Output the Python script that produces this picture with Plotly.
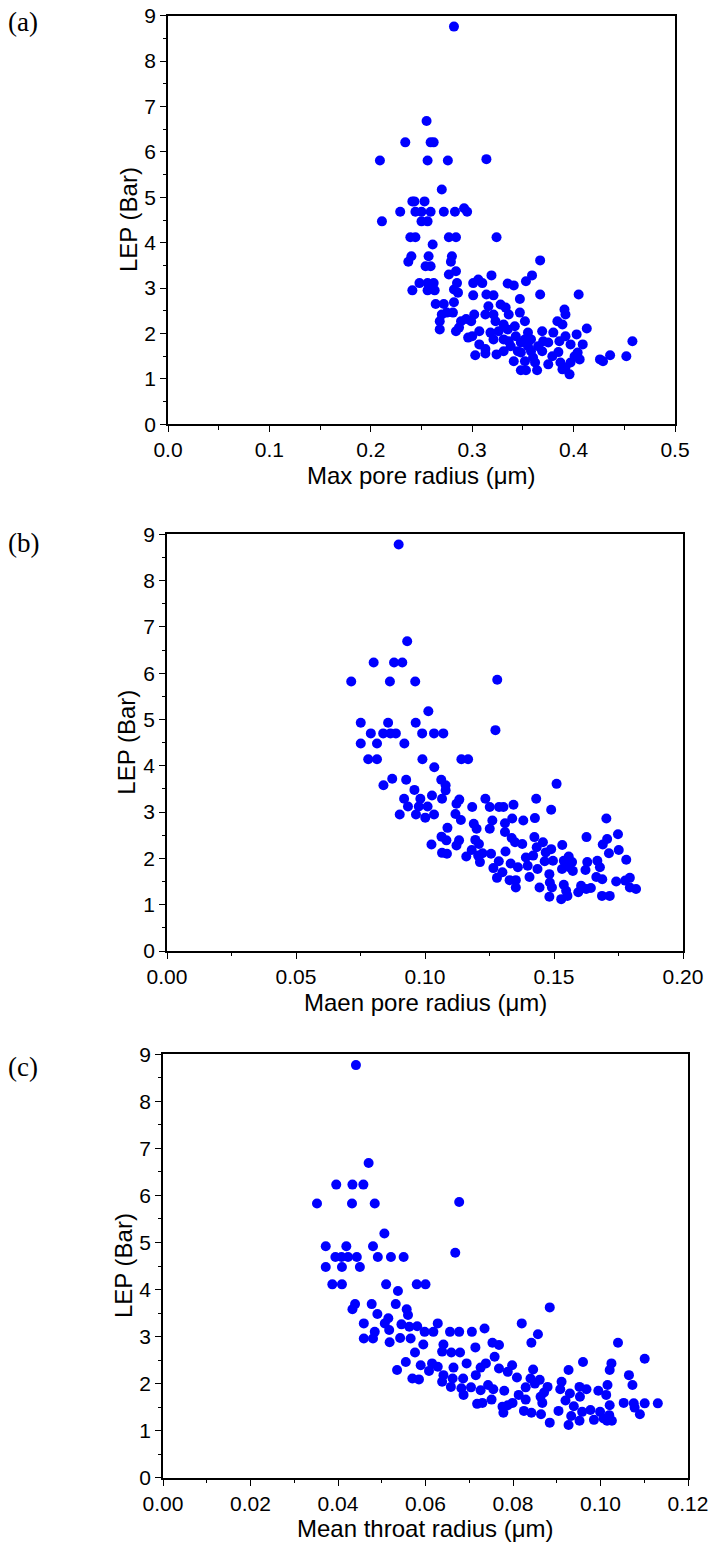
import plotly.graph_objects as go

# Panel (a): Max pore radius (um) vs LEP (Bar)
max_pore_radius = [0.282,0.255,0.234,0.259,0.262,0.209,0.256,0.276,0.314,0.270,0.241,0.243,0.253,0.229,0.244,0.250,0.259,0.272,0.283,0.292,0.295,0.211,0.250,0.256,0.239,0.244,0.277,0.284,0.324,0.261,0.240,0.237,0.257,0.280,0.279,0.367,0.254,0.259,0.277,0.284,0.319,0.359,0.353,0.248,0.256,0.262,0.285,0.301,0.306,0.310,0.335,0.341,0.241,0.256,0.263,0.282,0.286,0.301,0.314,0.321,0.367,0.405,0.347,0.282,0.264,0.272,0.328,0.333,0.281,0.391,0.392,0.270,0.268,0.302,0.313,0.321,0.336,0.347,0.352,0.289,0.294,0.299,0.384,0.389,0.268,0.284,0.287,0.413,0.307,0.318,0.326,0.335,0.369,0.380,0.392,0.403,0.296,0.300,0.321,0.331,0.343,0.352,0.358,0.375,0.386,0.397,0.409,0.458,0.307,0.313,0.338,0.348,0.355,0.365,0.303,0.313,0.324,0.331,0.345,0.358,0.369,0.385,0.404,0.436,0.452,0.426,0.429,0.406,0.341,0.352,0.362,0.375,0.387,0.392,0.397,0.348,0.353,0.364,0.396,0.389,0.323,0.331,0.342,0.336,0.360,0.379,0.348,0.316,0.401,0.275,0.355,0.370]
lep_a = [8.76,6.68,6.21,6.21,6.21,5.81,5.81,5.81,5.84,5.17,4.91,4.91,4.91,4.68,4.68,4.68,4.68,4.68,4.68,4.76,4.68,4.47,4.47,4.47,4.12,4.12,4.12,4.12,4.12,3.96,3.70,3.58,3.70,3.70,3.58,3.61,3.48,3.48,3.30,3.37,3.28,3.28,3.15,3.11,3.11,3.11,3.11,3.11,3.19,3.11,3.10,3.06,2.95,2.95,2.95,2.97,2.90,2.84,2.86,2.84,2.86,2.86,2.76,2.69,2.65,2.65,2.64,2.57,2.46,2.53,2.42,2.42,2.27,2.42,2.42,2.42,2.42,2.46,2.27,2.27,2.32,2.27,2.27,2.20,2.09,2.05,2.13,2.11,2.05,2.02,2.05,2.09,2.05,2.02,1.94,1.98,1.91,1.94,1.87,1.87,1.94,1.87,1.87,1.80,1.83,1.76,1.76,1.83,1.76,1.66,1.72,1.80,1.72,1.72,1.52,1.56,1.54,1.61,1.61,1.61,1.61,1.59,1.58,1.52,1.50,1.43,1.39,1.43,1.39,1.39,1.36,1.32,1.36,1.25,1.36,1.19,1.19,1.19,1.10,1.21,2.27,2.20,2.16,1.83,1.47,1.50,1.58,2.60,1.50,2.46,2.02,1.83]

# Panel (b): Maen pore radius (um) vs LEP (Bar)
mean_pore_radius = [0.0898,0.0931,0.0801,0.0880,0.0912,0.0714,0.0864,0.0962,0.1280,0.1013,0.0751,0.0857,0.0964,0.0790,0.0838,0.0866,0.0887,0.0989,0.1035,0.1071,0.1273,0.0751,0.0814,0.0920,0.0780,0.0814,0.0990,0.1141,0.1167,0.1036,0.0873,0.0839,0.0927,0.1063,0.1080,0.1510,0.0959,0.1080,0.1027,0.1066,0.0919,0.0982,0.1133,0.1234,0.1431,0.1122,0.1183,0.1251,0.1287,0.1304,0.1343,0.1489,0.0934,0.0976,0.1010,0.0902,0.0965,0.1001,0.1035,0.1118,0.1139,0.1703,0.1381,0.1426,0.1189,0.1261,0.1310,0.1338,0.1200,0.1251,0.1087,0.1310,0.1748,0.1626,0.1064,0.1336,0.1424,0.1706,0.1083,0.1132,0.1195,0.1349,0.1377,0.1457,0.1025,0.1122,0.1209,0.1532,0.1689,0.1433,0.1489,0.1751,0.1713,0.1181,0.1312,0.1468,0.1066,0.1085,0.1223,0.1256,0.1391,0.1419,0.1160,0.1206,0.1557,0.1780,0.1464,0.1496,0.1538,0.1570,0.1629,0.1668,0.1213,0.1286,0.1332,0.1398,0.1265,0.1360,0.1436,0.1531,0.1573,0.1622,0.1678,0.1300,0.1482,0.1279,0.1405,0.1664,0.1687,0.1794,0.1328,0.1352,0.1741,0.1484,0.1538,0.1776,0.1352,0.1444,0.1492,0.1605,0.1643,0.1818,0.1794,0.1547,0.1594,0.1625,0.1686,0.1716,0.1482,0.1528,0.1552,0.1559]
lep_b = [8.78,6.69,6.23,6.23,6.23,5.82,5.82,5.82,5.86,5.18,4.93,4.93,4.93,4.70,4.70,4.70,4.70,4.70,4.70,4.70,4.77,4.48,4.48,4.48,4.14,4.14,4.14,4.14,4.14,3.97,3.72,3.58,3.70,3.70,3.58,3.61,3.48,3.47,3.36,3.29,3.29,3.29,3.27,3.29,3.29,3.18,3.11,3.11,3.11,3.11,3.16,3.05,3.12,3.12,3.12,2.95,2.95,2.88,2.95,2.96,2.83,2.86,2.82,2.87,2.75,2.82,2.76,2.86,2.64,2.64,2.66,2.57,2.52,2.46,2.47,2.44,2.46,2.42,2.39,2.39,2.40,2.35,2.31,2.35,2.30,2.28,2.31,2.29,2.30,2.24,2.20,2.18,2.11,2.18,2.15,2.13,2.12,2.10,2.11,2.10,2.02,2.06,2.04,2.06,2.04,1.97,1.94,1.95,1.95,1.92,1.92,1.95,1.92,1.94,1.89,1.84,1.79,1.81,1.77,1.77,1.73,1.75,1.81,1.70,1.66,1.58,1.60,1.60,1.55,1.58,1.53,1.53,1.50,1.48,1.43,1.52,1.37,1.37,1.37,1.41,1.36,1.34,1.37,1.30,1.27,1.34,1.19,1.19,1.17,1.12,1.19,1.81]

# Panel (c): Mean throat radius (um) vs LEP (Bar)
mean_throat_radius = [0.0441,0.0470,0.0396,0.0433,0.0458,0.0352,0.0432,0.0484,0.0677,0.0506,0.0372,0.0419,0.0480,0.0394,0.0408,0.0423,0.0443,0.0491,0.0521,0.0550,0.0668,0.0372,0.0409,0.0450,0.0387,0.0409,0.0510,0.0580,0.0600,0.0537,0.0439,0.0433,0.0477,0.0532,0.0557,0.0884,0.0490,0.0560,0.0820,0.0857,0.0459,0.0507,0.0545,0.0515,0.0628,0.0563,0.0581,0.0735,0.0484,0.0517,0.0598,0.0618,0.0656,0.0677,0.0706,0.0459,0.0480,0.0542,0.0566,0.0518,0.0595,0.0641,0.0753,0.0768,0.0842,0.1040,0.0714,0.0638,0.0576,0.0659,0.0679,0.0758,0.1101,0.0960,0.0555,0.0694,0.0738,0.0798,0.1025,0.0589,0.0615,0.0628,0.0664,0.0726,0.0768,0.0535,0.0608,0.0846,0.0927,0.1021,0.0788,0.0641,0.0715,0.1065,0.0809,0.0840,0.0570,0.0585,0.0662,0.0686,0.0861,0.0911,0.0638,0.0743,0.1073,0.1016,0.0952,0.0829,0.0879,0.0658,0.0850,0.0682,0.0704,0.0968,0.0908,0.0726,0.0755,0.0780,0.0995,0.0871,0.0930,0.0687,0.0813,0.0863,0.1013,0.0953,0.0751,0.0829,0.0920,0.0867,0.0718,0.0730,0.0799,0.1053,0.1076,0.1101,0.1131,0.1021,0.0776,0.0788,0.0939,0.1078,0.0904,0.0825,0.0842,0.0958,0.0977,0.0999,0.0778,0.0864,0.1090,0.0933,0.1020,0.0985,0.1026,0.0952,0.0884,0.0927,0.1007,0.1015]
lep_c = [8.77,6.69,6.23,6.23,6.23,5.83,5.83,5.83,5.86,5.19,4.92,4.92,4.92,4.69,4.69,4.69,4.69,4.69,4.69,4.69,4.78,4.48,4.48,4.48,4.11,4.11,4.11,4.11,4.11,3.97,3.69,3.58,3.69,3.69,3.58,3.62,3.48,3.46,3.28,3.05,3.28,3.28,3.26,3.39,3.28,3.21,3.22,3.17,3.10,3.14,3.10,3.10,3.10,3.10,3.10,2.96,2.96,2.97,2.96,2.88,2.83,2.83,2.87,2.82,2.87,2.87,2.77,2.68,2.66,2.66,2.66,2.57,2.53,2.46,2.46,2.43,2.43,2.39,2.43,2.39,2.43,2.36,2.34,2.34,2.32,2.29,2.27,2.30,2.29,2.29,2.25,2.18,2.18,2.18,2.13,2.11,2.11,2.09,2.11,2.11,2.08,2.04,2.04,1.97,1.97,1.97,1.93,1.92,1.93,1.93,2.00,1.90,1.92,1.88,1.88,1.86,1.88,1.85,1.85,1.81,1.79,1.76,1.76,1.72,1.76,1.72,1.66,1.66,1.64,1.59,1.57,1.59,1.59,1.59,1.58,1.58,1.58,1.54,1.51,1.54,1.52,1.49,1.42,1.42,1.38,1.40,1.44,1.40,1.38,1.35,1.35,1.31,1.33,1.23,1.21,1.21,1.17,1.12,1.26,1.21]

panel_labels = ["(a)", "(b)", "(c)"]
x_titles = ["Max pore radius (μm)", "Maen pore radius (μm)", "Mean throat radius (μm)"]
y_title = "LEP (Bar)"
x_ranges = [[0, 0.5], [0, 0.2], [0, 0.12]]
x_dticks = [0.1, 0.05, 0.02]
x_formats = [".1f", ".2f", ".2f"]
y_range = [0, 9]

W, H = 717, 1565
# plot-area boxes in pixels (left, right, top, bottom)
boxes = [(168, 675, 15.7, 424.3), (167, 683, 534.3, 951), (163, 688, 1054.3, 1477.7)]
label_y = [22, 543, 1067]

fig = go.Figure()
xs = [max_pore_radius, mean_pore_radius, mean_throat_radius]
ys = [lep_a, lep_b, lep_c]
font_family = "Liberation Sans, Arial, sans-serif"

for i in range(3):
    n = "" if i == 0 else str(i + 1)
    fig.add_trace(go.Scatter(
        x=xs[i], y=ys[i], mode="markers", xaxis="x" + n, yaxis="y" + n,
        marker=dict(color="#0000FF", size=10, line=dict(width=0)), showlegend=False,
        cliponaxis=False,
    ))
    l, r, t, b = boxes[i]
    common = dict(showgrid=False, zeroline=False, showline=True, linecolor="black", linewidth=1.6,
                  mirror=True, ticks="outside", ticklen=6, tickwidth=1.4, tickcolor="black",
                  automargin=False,
                  tickfont=dict(family=font_family, size=21, color="black"))
    fig.layout["xaxis" + n] = dict(
        domain=[l / W, r / W], anchor="y" + n, range=x_ranges[i], dtick=x_dticks[i], tick0=0,
        tickformat=x_formats[i],
        minor=dict(dtick=x_dticks[i] / 2, ticks="outside", ticklen=3.5, tickwidth=1.2, tickcolor="black"),
        **common)
    fig.layout["yaxis" + n] = dict(
        domain=[1 - b / H, 1 - t / H], anchor="x" + n, range=y_range, dtick=1, tick0=0,
        minor=dict(dtick=0.5, ticks="outside", ticklen=3.5, tickwidth=1.2, tickcolor="black"),
        **common)
    # axis titles
    fig.add_annotation(x=(l + r) / 2 / W, y=1 - (b + 51) / H, xref="paper", yref="paper",
                       text=x_titles[i], showarrow=False, xanchor="center", yanchor="middle",
                       font=dict(family=font_family, size=24, color="black"))
    fig.add_annotation(x=(l - 40) / W, y=1 - ((t + b) / 2) / H, xref="paper", yref="paper",
                       text=y_title, showarrow=False, textangle=-90, xanchor="center", yanchor="middle",
                       font=dict(family=font_family, size=24, color="black"))
    fig.add_annotation(x=6 / W, y=1 - label_y[i] / H, xref="paper", yref="paper",
                       text=panel_labels[i], showarrow=False, xanchor="left", yanchor="middle",
                       font=dict(family="Liberation Serif, Times New Roman, serif", size=27, color="black"))

fig.update_layout(width=W, height=H, margin=dict(l=0, r=0, t=0, b=0, autoexpand=False),
                  paper_bgcolor="white", plot_bgcolor="white")
fig.write_html("out.html")
